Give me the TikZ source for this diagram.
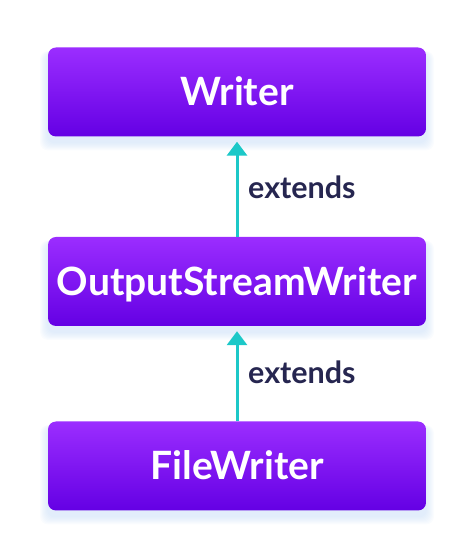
\documentclass[tikz,border=0pt]{standalone}
\usepackage{fontspec}
\newfontfamily\latob{Lato Bold}
\usetikzlibrary{arrows.meta}
\definecolor{ptop}{RGB}{155,45,255}
\definecolor{pbot}{RGB}{100,0,228}
\definecolor{teal1}{RGB}{28,200,200}
\definecolor{navy1}{RGB}{38,38,80}
\definecolor{shadowc}{RGB}{190,215,245}
\tikzset{
  box/.style={minimum width=378pt, minimum height=89pt, rounded corners=8pt,
    top color=ptop, bottom color=pbot, text=white, inner sep=0pt,
    font=\latob\fontsize{39}{45}\selectfont, text height=28pt, text depth=0pt},
  ext/.style={arrows={-Triangle[width=20pt,length=14pt]}, line width=3pt, draw=teal1, color=teal1, shorten >=5pt},
  lbl/.style={anchor=west, text=navy1, inner sep=0pt, font=\latob\fontsize{30.5}{34}\selectfont}
}
\begin{document}
\begin{tikzpicture}[x=1pt,y=1pt]
\useasboundingbox (0,0) rectangle (474,559);
% soft shadows
\foreach \cy in {467,277.5,93}{
  \foreach \i in {1,...,8}{
    \fill[shadowc, opacity=0.07, rounded corners=8pt]
      (48-\i,\cy-44.5-6-\i) rectangle (426+\i,\cy+44.5-6+\i*0.3);
  }
}
\node[box] (w) at (237,467) {Writer};
\node[box] (o) at (237,277.5) {OutputStreamWriter};
\node[box] (f) at (237,93) {FileWriter};
\draw[ext] (o.north) -- (w.south);
\draw[ext] (f.north) -- (o.south);
\node[lbl] (l1) at (248,372) {extends};
\node[lbl] (l2) at (248,187) {extends};
\end{tikzpicture}
\end{document}
